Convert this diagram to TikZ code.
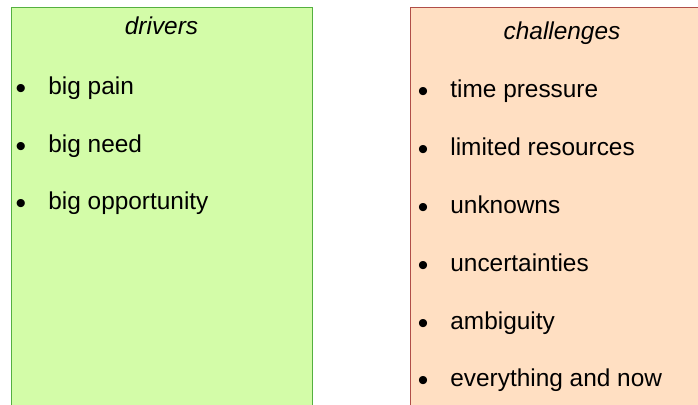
\documentclass[tikz,border=0pt]{standalone}
\usepackage{fontspec}
\setmainfont{Liberation Sans}
\usetikzlibrary{positioning}
\definecolor{drivefill}{RGB}{211,252,168}
\definecolor{driveline}{RGB}{84,176,64}
\definecolor{challfill}{RGB}{255,223,194}
\definecolor{challline}{RGB}{176,78,72}

\begin{document}
\begin{tikzpicture}[x=0.5pt,y=-0.5pt,
    every node/.style={font=\fontsize{12.2}{14}\selectfont, inner sep=0pt},
    listbox/.style={anchor=north west, line width=0.7pt, minimum width=#1},
    bullet/.style={anchor=base, yshift=-2pt, font=\fontsize{15}{15}\selectfont},
    entry/.style={anchor=base west}]
    \useasboundingbox (0,0) rectangle (698,405);
    \clip (0,0) rectangle (698,405);
    \node [listbox=150.5pt, draw=driveline, fill=drivefill, minimum height=220pt] (drivers) at (11,7) {};
    \node [listbox=160pt, draw=challline, fill=challfill, minimum height=220pt] (challenges) at (410,7) {};
    \node [anchor=base] (drivers-title) at (161.5,35) {\itshape drivers};
    \node [anchor=base] (challenges-title) at (562,40) {\itshape challenges};
    \foreach \txt [count=\i] in {big pain, big need, big opportunity}
    {
    \node [bullet] (drv-dot-\i) at (21,{95+57.5*(\i-1)}) {•};
    \node [entry] (drv-\i) at (48,{95+57.5*(\i-1)}) {\txt};
    }
    \foreach \txt [count=\i] in {time pressure, limited resources, unknowns, uncertainties, ambiguity, everything and now}
    {
    \node [bullet] (chl-dot-\i) at (423,{98+57.8*(\i-1)}) {•};
    \node [entry] (chl-\i) at (450,{98+57.8*(\i-1)}) {\txt};
    }
\end{tikzpicture}
\end{document}
